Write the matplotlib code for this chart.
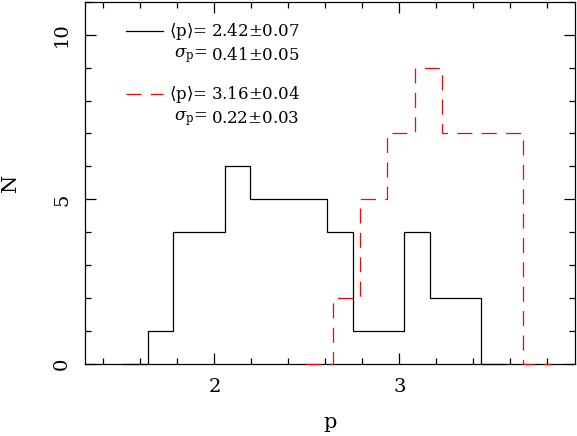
import numpy as np
import matplotlib.pyplot as plt
from matplotlib.ticker import MultipleLocator

plt.rcParams['font.family'] = 'DejaVu Serif'
plt.rcParams['mathtext.fontset'] = 'dejavuserif'

# black histogram (bin edges and counts)
black_edges = 1.5015 + 0.1385 * np.arange(16)
black_counts = [0, 1, 4, 4, 6, 5, 5, 5, 4, 1, 1, 4, 2, 2, 0]

# red dashed histogram
red_edges = 2.495 + 0.147 * np.arange(10)
red_counts = [0, 2, 5, 7, 9, 7, 7, 7, 0]

labels = [r'$\langle$p$\rangle$=', r'$\sigma_{\rm p}$=',
          r'$\langle$p$\rangle$=', r'$\sigma_{\rm p}$=']
values = ['2.42$\\pm$0.07', '0.41$\\pm$0.05', '3.16$\\pm$0.04', '0.22$\\pm$0.03']

dash = (0, (12, 7.5))

fig = plt.figure(figsize=(5.77, 4.36), dpi=100)
ax = fig.add_axes([0.1473, 0.1651, 0.8492, 0.831])

ax.stairs(black_counts, black_edges, color='black', lw=0.9, zorder=3, clip_on=False)
ax.stairs(red_counts, red_edges, color='red', lw=0.9, linestyle=dash, zorder=3,
          clip_on=False)

ax.set_xlim(1.3, 3.95)
ax.set_ylim(0, 11)
ax.xaxis.set_major_locator(MultipleLocator(1))
ax.xaxis.set_minor_locator(MultipleLocator(0.2))
ax.yaxis.set_major_locator(MultipleLocator(5))
ax.yaxis.set_minor_locator(MultipleLocator(1))
ax.tick_params(which='both', direction='in', top=True, right=True, width=0.9)
ax.tick_params(which='major', length=8, labelsize=14)
ax.tick_params(axis='x', which='major', pad=10)
ax.tick_params(axis='y', which='major', pad=10)
ax.tick_params(which='minor', length=4.5)
ax.tick_params(axis='y', labelrotation=90)
for t in ax.get_yticklabels():
    t.set_va('center')
for s in ax.spines.values():
    s.set_linewidth(0.9)

ax.set_xlabel('p', fontsize=15, labelpad=12)
ax.set_ylabel('N', fontsize=15, labelpad=24)

# legend drawn by hand
ax.plot([0.0827, 0.1602], [0.918, 0.918], transform=ax.transAxes, color='black', lw=0.9)
ax.plot([0.0827, 0.1602], [0.744, 0.744], transform=ax.transAxes, color='red', lw=0.9,
        linestyle=dash)
ys = [0.918, 0.852, 0.744, 0.678]
for lab, val, y in zip(labels, values, ys):
    ax.text(0.249, y, lab, transform=ax.transAxes, ha='right', va='center', fontsize=12)
    ax.text(0.257, y, val, transform=ax.transAxes, ha='left', va='center', fontsize=12)

fig.savefig('out.png', dpi=100)
